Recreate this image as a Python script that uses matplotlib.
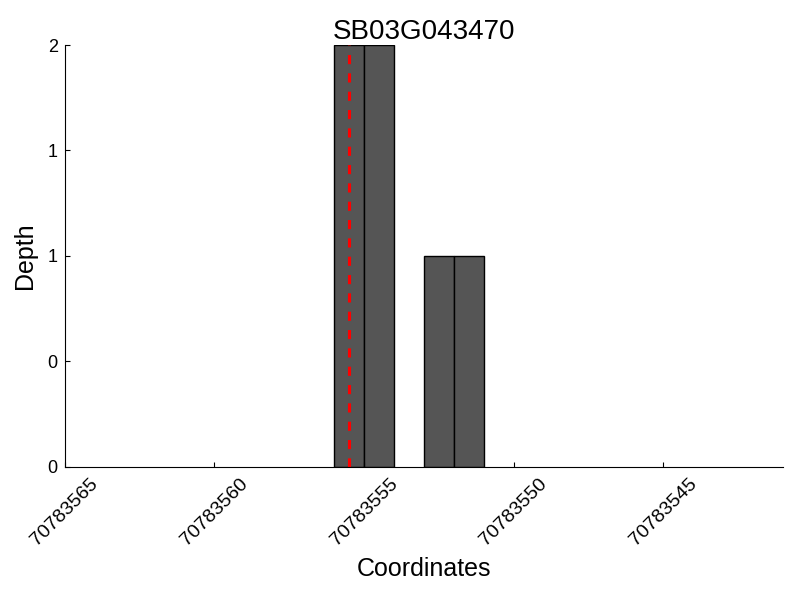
import matplotlib
matplotlib.use("Agg")
import matplotlib.pyplot as plt
from matplotlib.ticker import FormatStrFormatter

plt.rcParams["font.family"] = ["Liberation Sans", "DejaVu Sans"]

gene = "SB03G043470"
positions = [70783555, 70783554, 70783552, 70783551]
depths = [2, 2, 1, 1]
marker_pos = 70783555.5
x_ticks = [70783565, 70783560, 70783555, 70783550, 70783545]
y_ticks = [0, 0.5, 1, 1.5, 2]

fig = plt.figure(figsize=(8, 6), dpi=100)
ax = fig.add_axes([0.081, 0.222, 0.898, 0.703])

ax.bar(positions, depths, width=1, align="edge", color="#555555",
       edgecolor="black", linewidth=1)
ax.axvline(marker_pos, color="red", linestyle=(0, (3, 3)), linewidth=2.2)

ax.set_xlim(70783565, 70783541)
ax.set_ylim(0, 2)
ax.set_xticks(x_ticks)
ax.set_xticklabels([str(t) for t in x_ticks], rotation=45, ha="center")
ax.set_yticks(y_ticks)
ax.yaxis.set_major_formatter(FormatStrFormatter("%d"))
ax.tick_params(direction="in", pad=5)
ax.tick_params(axis="x", labelsize=14, pad=6)
ax.tick_params(axis="y", labelsize=13)

ax.spines["top"].set_visible(False)
ax.spines["right"].set_visible(False)

ax.set_title(gene, fontsize=20, pad=2)
ax.set_xlabel("Coordinates", fontsize=18, labelpad=6)
ax.set_ylabel("Depth", fontsize=18, labelpad=8)

fig.savefig("out.png", dpi=100)
